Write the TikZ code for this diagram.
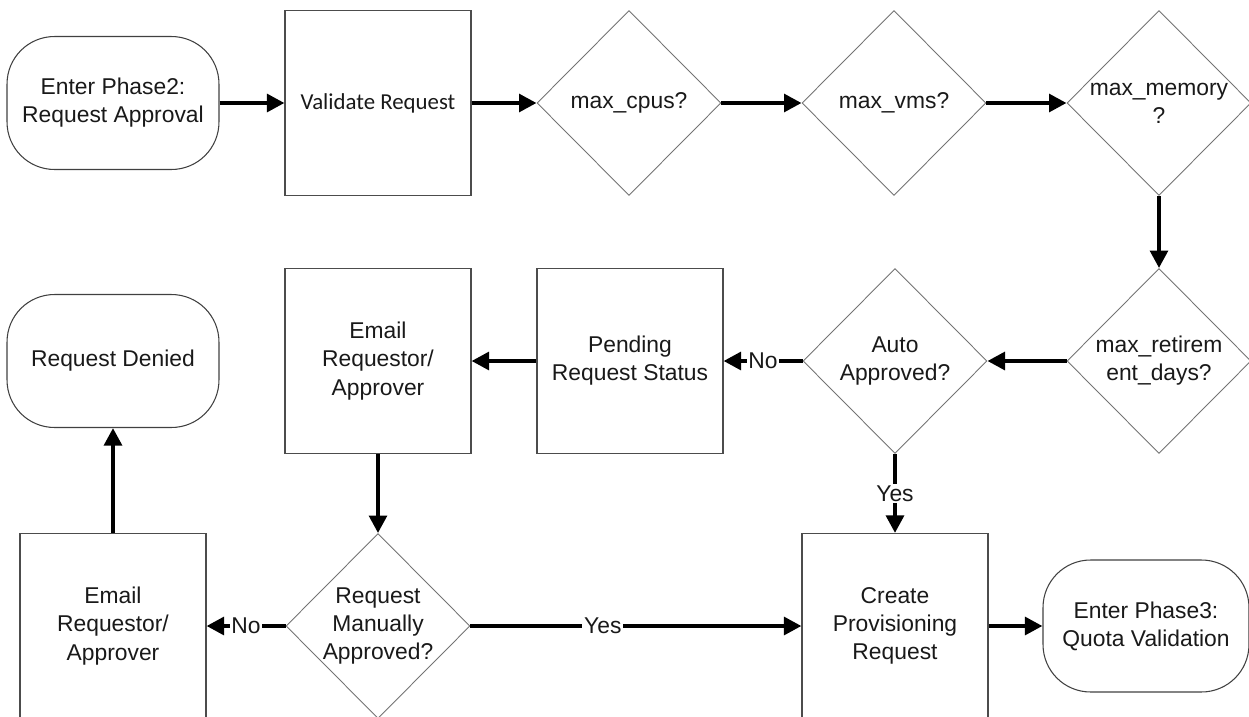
\documentclass[tikz,border=0pt]{standalone}
\usepackage{fontspec}
\setmainfont{Liberation Sans}
\newfontfamily\calibrifont{Carlito}
\usetikzlibrary{shapes.geometric,arrows.meta}

\begin{document}
\begin{tikzpicture}[x=0.02cm, y=-0.02cm,
    font=\fontsize{13}{16}\selectfont, text=black!90,
    term node/.style={rectangle,rounded corners=0.95cm,draw=black!75,line width=0.6pt,minimum width=4.24cm,minimum height=2.66cm,align=center,inner sep=0pt},
    proc node/.style={rectangle,draw=black!70,line width=0.6pt,minimum width=3.72cm,minimum height=3.7cm,align=center,inner sep=0pt},
    dec node/.style={diamond,aspect=1,draw=black!55,line width=0.5pt,minimum width=3.68cm,minimum height=3.7cm,align=center,inner sep=-4pt},
    flow/.style={line width=2.4pt,-{Triangle[length=10pt,width=10pt]}},
    answer/.style={fill=white,inner sep=1pt} ]
    \useasboundingbox (0,0) rectangle (1249,717);
    % top row
    \node at (113,103) [term node] (start) {Enter Phase2:\\Request Approval};
    \node at (378,103) [proc node,font=\calibrifont\fontsize{13}{16}\selectfont] (validate) {Validate Request};
    \node at (629,103) [dec node] (cpus) {max\_cpus?};
    \node at (894,103) [dec node] (vms) {max\_vms?};
    \node at (1159,103) [dec node] (memory) {max\_memory\\?};
    % middle row
    \node at (113,361) [term node] (denied) {Request Denied};
    \node at (378,361) [proc node] (emailmid) {Email\\Requestor/\\Approver};
    \node at (630,361) [proc node] (pending) {Pending\\Request Status};
    \node at (895,361) [dec node] (auto) {Auto\\Approved?};
    \node at (1159,361) [dec node] (retire) {max\_retirem\\ent\_days?};
    % bottom row
    \node at (113,626) [proc node] (emailleft) {Email\\Requestor/\\Approver};
    \node at (378,626) [dec node] (manual) {Request\\Manually\\Approved?};
    \node at (895,626) [proc node] (create) {Create\\Provisioning\\Request};
    \node at (1146,626) [term node,minimum width=4.12cm,minimum height=2.64cm] (phase3) {Enter Phase3:\\Quota Validation};
    \draw [flow] (start) to (validate);
    \draw [flow] (validate) to (cpus);
    \draw [flow] (cpus) to (vms);
    \draw [flow] (vms) to (memory);
    \draw [flow] (memory) to (retire);
    \draw [flow] (retire) to (auto);
    \draw [flow] (auto) to node [answer] {No} (pending);
    \draw [flow] (auto) to node [answer] {Yes} (create);
    \draw [flow] (pending) to (emailmid);
    \draw [flow] (emailmid) to (manual);
    \draw [flow] (manual) to node [answer] {No} (emailleft);
    \draw [flow] (manual) to node [answer,pos=0.4] {Yes} (create);
    \draw [flow] (emailleft) to (denied);
    \draw [flow] (create) to (phase3);
    %\node at (1249,717) (corner) {};
\end{tikzpicture}
\end{document}
